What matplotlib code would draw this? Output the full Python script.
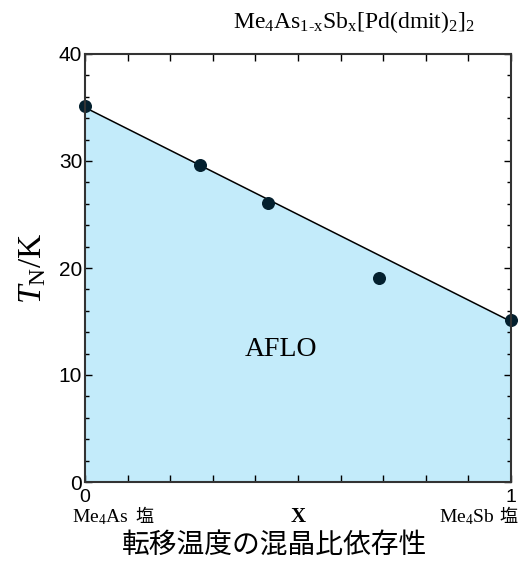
import matplotlib
matplotlib.use("Agg")
import matplotlib.pyplot as plt
import matplotlib.transforms as mtransforms
import numpy as np

# Me4As(1-x)Sb(x)[Pd(dmit)2]2 : Neel temperature vs. composition
x_data = [0.0, 0.27, 0.43, 0.69, 1.0]
tn_data = [35.1, 29.6, 26.1, 19.1, 15.1]
line_x = [0.0, 1.0]
line_tn = [35.0, 15.0]

y_ticks = [0, 10, 20, 30, 40]
x_tick_labels = {0.0: "0", 1.0: "1"}

title_text = r"Me$_4$As$_{1\mathrm{‐x}}$Sb$_\mathrm{x}$[Pd(dmit)$_2$]$_2$"
phase_label = "AFLO"
caption = "転移温度の混晶比依存性"

plt.rcParams["mathtext.fontset"] = "custom"
plt.rcParams["mathtext.rm"] = "Liberation Serif"
plt.rcParams["mathtext.it"] = "Liberation Serif:italic"
plt.rcParams["mathtext.bf"] = "Liberation Serif:bold"

sans = "Liberation Sans"
cjk = ["Noto Sans CJK JP", "DejaVu Sans"]

fig = plt.figure(figsize=(5.22, 5.65), dpi=100)
ax = fig.add_axes([85 / 522, 1 - 482 / 565, 426 / 522, 428 / 565])

# shaded antiferromagnetic region under the linear boundary
ax.fill_between(line_x, 0, line_tn, color="#c3ebfa", lw=0, zorder=1)
ax.plot(line_x, line_tn, color="black", lw=1.1, zorder=2)
ax.scatter(x_data, tn_data, s=70, color="#04202e", zorder=3, clip_on=False)

ax.set_xlim(0, 1)
ax.set_ylim(0, 40)

xt = np.round(np.arange(0, 1.01, 0.1), 2)
ax.set_xticks(xt)
ax.set_xticklabels([x_tick_labels.get(v, "") for v in xt], fontfamily=sans, fontsize=14)
ax.set_yticks(y_ticks)
ax.set_yticklabels([str(v) for v in y_ticks], fontfamily=sans, fontsize=15)
ax.set_yticks(np.arange(0, 41, 2), minor=True)
ax.tick_params(which="both", direction="in", top=True, right=True, width=1)
ax.tick_params(which="major", length=5)
ax.tick_params(axis="y", which="major", pad=2)
ax.tick_params(axis="x", which="major", pad=5)
ax.tick_params(which="minor", length=3)
for s in ax.spines.values():
    s.set_linewidth(1.5)
    s.set_color("#333333")
    s.set_zorder(4)

# composition end members under the x axis
trans = mtransforms.blended_transform_factory(ax.transData, fig.transFigure)
ylab = 1 - 517 / 565
ax.text(-0.03, ylab, r"Me$_4$As", transform=trans, ha="left", va="center",
        fontfamily="Liberation Serif", fontsize=14, clip_on=False)
ax.text(0.118, ylab, "塩", transform=trans, ha="left", va="center",
        fontfamily=cjk, fontsize=13, clip_on=False)
ax.text(0.5, ylab, "X", transform=trans, ha="center", va="center",
        fontfamily="Liberation Serif", fontweight="bold", fontsize=15, clip_on=False)
ax.text(0.96, ylab, r"Me$_4$Sb", transform=trans, ha="right", va="center",
        fontfamily="Liberation Serif", fontsize=14, clip_on=False)
ax.text(1.015, ylab, "塩", transform=trans, ha="right", va="center",
        fontfamily=cjk, fontsize=13, clip_on=False)

ax.text(0.46, 12.4, phase_label, ha="center", va="center",
        fontfamily="Liberation Serif", fontsize=20)

ax.set_ylabel(r"$T_\mathrm{N}$/K", fontfamily="Liberation Serif",
              fontsize=24, labelpad=8)

fig.text(354 / 522, 1 - 22 / 565, title_text, ha="center", va="center",
         fontfamily="Liberation Serif", fontsize=17)
fig.text(275 / 522, 1 - 545 / 565, caption, ha="center", va="center",
         fontfamily=cjk, fontsize=20)

fig.savefig("out.png", dpi=100)
